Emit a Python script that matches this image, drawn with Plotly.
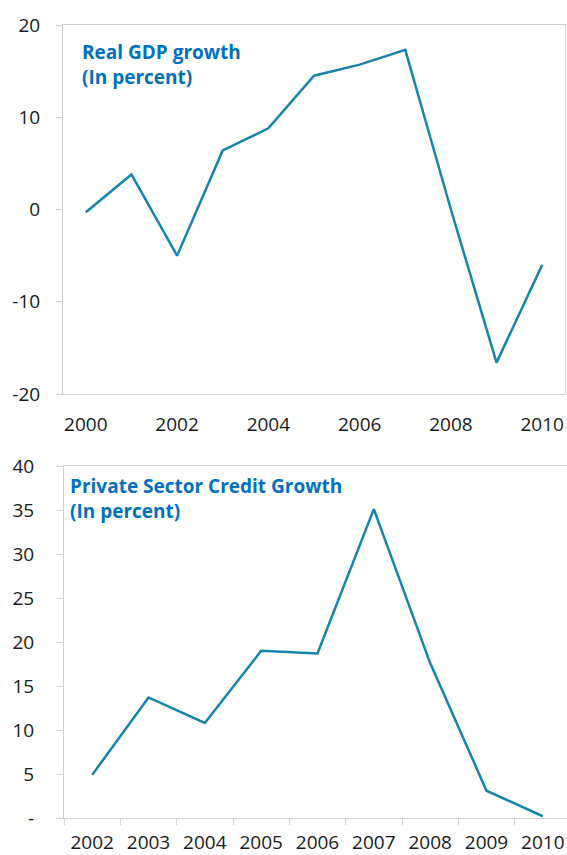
import plotly.graph_objects as go

# Real GDP growth, annual, percent
gdp_years = [2000, 2001, 2002, 2003, 2004, 2005, 2006, 2007, 2008, 2009, 2010]
gdp_growth = [-0.3, 3.8, -5.0, 6.4, 8.8, 14.5, 15.7, 17.3, 0.0, -16.6, -6.0]

# Private sector credit growth, annual, percent
credit_years = ["2002", "2003", "2004", "2005", "2006", "2007", "2008", "2009", "2010"]
credit_growth = [4.9, 13.7, 10.8, 19.0, 18.7, 35.1, 17.6, 3.1, 0.2]

gdp_ticks = [-20, -10, 0, 10, 20]
gdp_tick_text = ["-20", "-10", "0", "10", "20"]
credit_ticks = [0, 5, 10, 15, 20, 25, 30, 35, 40]
credit_tick_text = ["-", "5", "10", "15", "20", "25", "30", "35", "40"]

W, H = 567, 855
LINE = "#1585AF"
TITLE = "#0070C0"
AXIS = "#D0D0D0"
FONT = "Open Sans"

# panel geometry in pixels
top_px = (25, 394)
bot_px = (466, 818)
top_x = (63 / W, 565 / W)
bot_x = (64 / W, 1.0)


def ydom(px):
    return [1 - px[1] / H, 1 - px[0] / H]


top_dom = ydom(top_px)
bot_dom = ydom(bot_px)

fig = go.Figure()
fig.add_trace(go.Scatter(x=gdp_years, y=gdp_growth, mode="lines",
                         line=dict(color=LINE, width=2.5), xaxis="x", yaxis="y",
                         showlegend=False, hoverinfo="x+y"))
fig.add_trace(go.Scatter(x=credit_years, y=credit_growth, mode="lines",
                         line=dict(color=LINE, width=2.5), xaxis="x2", yaxis="y2",
                         showlegend=False, hoverinfo="x+y"))

gdp_lo, gdp_hi = gdp_ticks[0], gdp_ticks[-1]
zero_pos = top_dom[0] + (0 - gdp_lo) / (gdp_hi - gdp_lo) * (top_dom[1] - top_dom[0])
x_range = [gdp_years[0] - 0.5, gdp_years[-1] + 0.5]
boundaries = [y - 0.5 for y in gdp_years] + [gdp_years[-1] + 0.5]

tick_font = dict(family=FONT, size=19, color="#1a1a1a")

fig.update_layout(
    width=W, height=H,
    margin=dict(l=0, r=0, t=0, b=0),
    template="none",
    paper_bgcolor="white", plot_bgcolor="white",
    font=dict(family=FONT, size=19, color="#1a1a1a"),
    # top panel: labels on the bottom edge, box around the plot
    xaxis=dict(domain=list(top_x), anchor="y", range=x_range,
               tickvals=gdp_years[::2], ticktext=[str(v) for v in gdp_years[::2]],
               ticks="", showline=True, linecolor=AXIS, linewidth=1, mirror=True,
               showgrid=False, zeroline=False, tickfont=tick_font,
               ticklabelstandoff=13, automargin=False),
    # category axis riding on the zero line
    xaxis3=dict(overlaying="x", anchor="free", position=zero_pos, range=x_range,
                tickvals=boundaries, showticklabels=False, ticks="outside",
                ticklen=7, tickcolor=AXIS, showline=True, linecolor=AXIS,
                linewidth=1, showgrid=False, zeroline=False, automargin=False),
    yaxis=dict(domain=top_dom, anchor="x", range=[gdp_lo, gdp_hi],
               tickvals=gdp_ticks, ticktext=gdp_tick_text, ticks="outside",
               ticklen=6, tickcolor=AXIS,
               showline=True, linecolor=AXIS, linewidth=1, mirror=True,
               showgrid=False, zeroline=False, tickfont=tick_font,
               ticklabelstandoff=12, automargin=False),
    # bottom panel
    xaxis2=dict(domain=list(bot_x), anchor="y2", type="category",
                range=[-0.5, len(credit_years) - 0.5 - 4 / 56.3],
                tickson="boundaries", ticks="outside", ticklen=6, tickcolor=AXIS,
                showline=True, linecolor=AXIS, linewidth=1, mirror=True,
                showgrid=False, zeroline=False, tickfont=tick_font,
                ticklabelstandoff=7, automargin=False),
    yaxis2=dict(domain=bot_dom, anchor="x2", range=[credit_ticks[0], credit_ticks[-1]],
                tickvals=credit_ticks, ticktext=credit_tick_text, ticks="outside",
                ticklen=7, tickcolor=AXIS, showline=True, linecolor=AXIS,
                linewidth=1, showgrid=False, zeroline=False, tickfont=tick_font,
                ticklabelstandoff=18, automargin=False),
)

title_font = dict(family=FONT, size=19, color=TITLE)
fig.add_annotation(xref="paper", yref="paper", x=80 / W, y=1 - 37 / H,
                   xanchor="left", yanchor="top", align="left", showarrow=False,
                   text="<b>Real GDP growth<br>(In percent)</b>", font=title_font)
fig.add_annotation(xref="paper", yref="paper", x=68 / W, y=1 - 471 / H,
                   xanchor="left", yanchor="top", align="left", showarrow=False,
                   text="<b>Private Sector Credit Growth<br>(In percent)</b>",
                   font=title_font)

fig.write_html("out.html")
